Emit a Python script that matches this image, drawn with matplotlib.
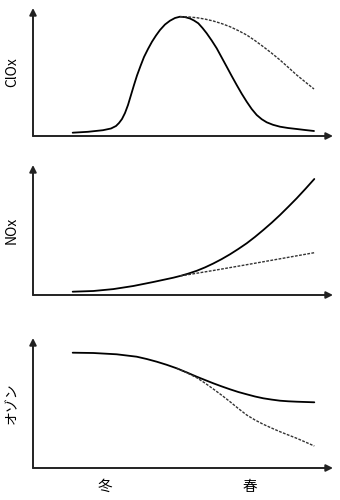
import matplotlib.pyplot as plt

plt.rcParams['font.family'] = ['Liberation Sans Narrow', 'Noto Sans CJK JP', 'DejaVu Sans']

# time axis (arbitrary units, winter -> spring) and curve values
clox_t = [39.7, 55, 70, 78, 83, 86, 89, 92, 95, 98, 101, 104, 107.5, 111, 115, 119, 123,
          127, 132, 137, 142, 147, 152, 157, 161, 165.3, 169.5, 173.7, 178.7, 183.7, 188.7,
          193.7, 198.7, 203.7, 208.7, 213.7, 218.7, 223.7, 228.7, 233.7, 240, 247, 255,
          263.7, 272, 281]
clox_solid = [3.3, 4.2, 5.8, 7.5, 10, 13, 17, 23, 31, 41, 51, 60.5, 70, 79, 87, 94.3, 100.5,
              106, 111.5, 115.3, 118, 119.3, 118.9, 117.5, 115.5, 112.7, 108, 102.7, 95.5,
              87.7, 78.5, 69.3, 60, 51, 42.3, 34.3, 27, 21, 16.8, 13.7, 11.2, 9.3, 8, 7,
              6, 5]
clox_dash_t = [147, 155, 163.7, 172, 180.3, 188.7, 197, 205.3, 213.7, 222, 230.3, 238.7,
               247, 255.3, 263.7, 272.3, 281]
clox_dash = [119.3, 119.1, 118.3, 116.9, 115, 112.4, 109.3, 105.4, 101, 95.4, 89.3, 82.8,
             76, 68.6, 61, 54, 47]

nox_t = [39.7, 60.3, 80.3, 100.3, 120.3, 140.3, 147, 155, 163.7, 172, 180.3, 188.7, 197,
         205.3, 213.7, 222, 230.3, 238.7, 247, 255.3, 263.7, 272.5, 281.3]
nox_solid = [3.3, 4, 5.9, 9, 13, 17.3, 19, 21.3, 24.2, 27.6, 31.5, 35.9, 40.7, 46, 51.7,
             58.1, 65, 72.3, 80, 88.2, 96.7, 106.2, 116]
nox_dash_t = [147, 180.3, 213.7, 247, 281.3]
nox_dash = [19, 24.5, 30.3, 36.2, 42.3]

o3_t = [39.7, 60.3, 83.7, 103.7, 113.7, 123.7, 133.7, 143.7, 153.7, 163.7, 172, 180.3,
        188.7, 197, 205.3, 213.7, 222, 230.3, 238.7, 247, 255.3, 263.7, 272.5, 281.3]
o3_solid = [115.3, 115, 113.7, 111.3, 109, 106.3, 103.2, 99.7, 95.6, 91.3, 88, 84.7, 81.6,
            78.7, 76, 73.7, 71.5, 69.7, 68.4, 67.3, 66.7, 66.3, 66, 65.7]
o3_dash_t = [143.7, 153.7, 163.7, 172, 180.3, 188.7, 197, 205.3, 213.7, 222, 230.3, 238.7,
             247, 255.3, 263.7, 272.5, 281.3]
o3_dash = [99.7, 95.3, 90.3, 84.9, 79, 72.8, 66.3, 59.5, 53, 48, 43.7, 39.9, 36.3, 33,
           29.7, 25.9, 22]

season_labels = ['冬', '春']
season_t = [72, 217]

panels = [
    ('ClOx', clox_t, clox_solid, clox_dash_t, clox_dash, 136, 128),
    ('NOx', nox_t, nox_solid, nox_dash_t, nox_dash, 295, 130),
    ('オゾン', o3_t, o3_solid, o3_dash_t, o3_dash, 468, 130),
]

W, H = 340, 500
fig = plt.figure(figsize=(3.4, 5), dpi=100)

for label, t, solid, dt, dash, base, height in panels:
    ax = fig.add_axes([33 / W, (H - base) / H, 300 / W, height / H])
    ax.set_xlim(0, 300)
    ax.set_ylim(0, height)
    ax.plot(t, solid, color='black', lw=1.3, solid_capstyle='round', solid_joinstyle='round')
    ax.plot(dt, dash, color='#333333', lw=1.0, linestyle=(0, (2, 1)))
    for s in ax.spines.values():
        s.set_visible(False)
    ax.set_xticks([])
    ax.set_yticks([])
    arrow = dict(arrowstyle='-|>', color='#222222', lw=1.4, mutation_scale=10,
                 shrinkA=0, shrinkB=0)
    ax.annotate('', xy=(1, 0), xytext=(0, 0), xycoords='axes fraction', arrowprops=arrow)
    ax.annotate('', xy=(0, 1), xytext=(0, 0), xycoords='axes fraction', arrowprops=arrow)
    ax.text(-21 / 300, 0.5, label, transform=ax.transAxes, rotation=90,
            ha='center', va='center', fontsize=10)

for lab, x in zip(season_labels, season_t):
    ax.text(x, -19, lab, ha='center', va='center', fontsize=10.5, clip_on=False,
            family=['Noto Sans CJK JP'])

fig.savefig('out.png', dpi=100)
